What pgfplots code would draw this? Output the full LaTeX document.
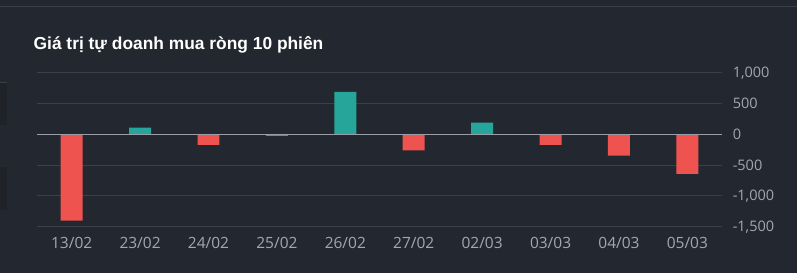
\documentclass[border=0pt]{standalone}
\usepackage{pgfplots}
\pgfplotsset{compat=1.18}
\usepackage{fontspec}
\setmainfont{Open Sans}
\newfontfamily\titlefont{Liberation Sans}
\definecolor{bg}{HTML}{23272F}
\definecolor{gridc}{HTML}{3B3F48}
\definecolor{zeroc}{HTML}{9A9EA8}
\definecolor{labc}{HTML}{A3A7B0}
\definecolor{upc}{HTML}{26A69A}
\definecolor{downc}{HTML}{EF5350}
\definecolor{panelc}{HTML}{1F2229}
\begin{document}
\begin{tikzpicture}[x=1pt,y=1pt]
\fill[bg] (0pt,0pt) rectangle (797pt,273pt);
\draw[gridc, line width=1pt] (0pt,266pt) -- (797pt,266pt);
\fill[panelc] (0pt,148pt) rectangle (7pt,190pt);
\fill[panelc] (0pt,63pt) rectangle (7pt,106pt);
\draw[gridc, line width=1pt] (0pt,190.5pt) -- (7pt,190.5pt);
\node[anchor=base west, inner sep=0pt, text=white, font=\titlefont\fontsize{17.4}{20}\selectfont\bfseries] at (33pt,223pt) {Giá trị tự doanh mua ròng 10 phiên};
\begin{axis}[
  at={(37pt,46pt)}, anchor=south west,
  scale only axis, width=685pt, height=154pt,
  xmin=-0.5, xmax=9.5, ymin=-1500, ymax=1000,
  axis line style={draw=none},
  ybar, bar width=22pt, bar shift=0pt,
  xtick={0,...,9},
  xticklabels={13/02,23/02,24/02,25/02,26/02,27/02,02/03,03/03,04/03,05/03},
  ytick={-1500,-1000,-500,0,500,1000},
  yticklabel pos=right,
  ymajorgrids, major grid style={gridc, line width=1pt},
  major tick length=0pt,
  tick style={draw=none},
  /pgf/number format/assume math mode=true,
  /pgf/number format/1000 sep={,},
  yticklabel={\pgfmathprintnumber{\tick}},
  yticklabel style={anchor=west, inner sep=0pt, xshift=11pt, text=labc, font=\fontsize{14.5}{16}\selectfont},
  xticklabel style={anchor=north, inner sep=0pt, yshift=-10pt, text=labc, font=\fontsize{15.5}{17}\selectfont},
  clip=false,
]
\addplot[fill=upc, draw=none] coordinates {(1,110) (4,690) (6,190)};
\addplot[fill=downc, draw=none] coordinates {(0,-1400) (2,-170) (3,-25) (5,-260) (7,-170) (8,-345) (9,-640)};
\draw[zeroc, line width=1.2pt] (axis cs:-0.5,0) -- (axis cs:9.5,0);
\end{axis}
\end{tikzpicture}
\end{document}
